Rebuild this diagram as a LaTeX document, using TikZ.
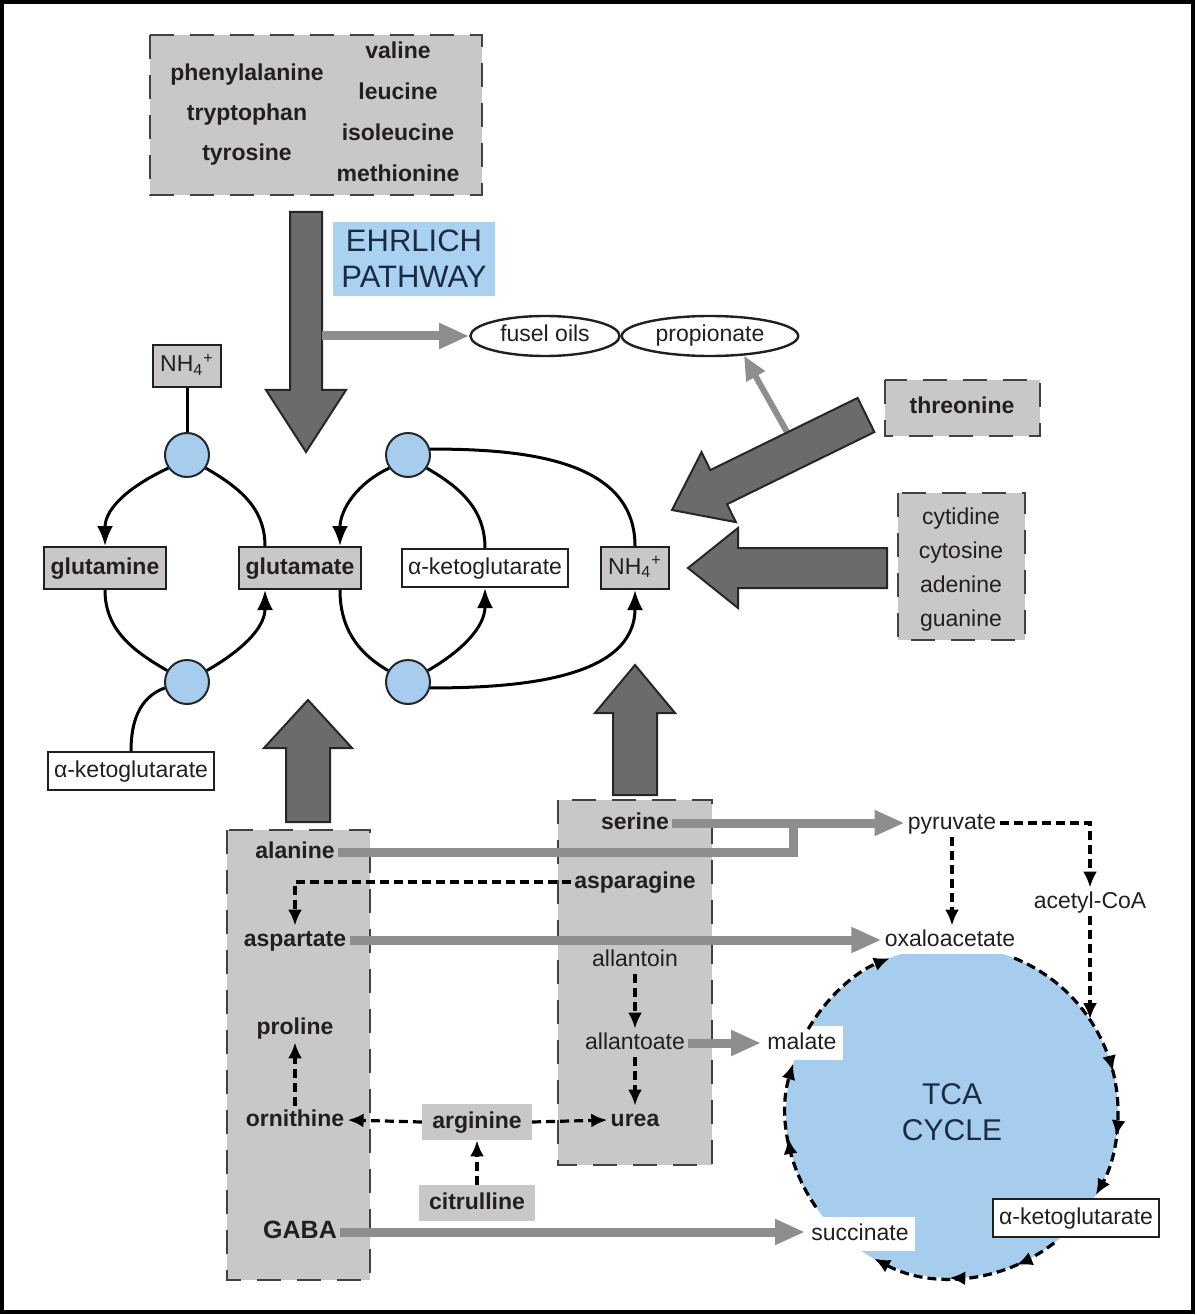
\documentclass[tikz,border=0pt]{standalone}
\usepackage{fontspec}
\setmainfont{Liberation Sans}
\usetikzlibrary{arrows.meta,calc,shapes.geometric,decorations.markings}

\definecolor{boxgray}{HTML}{C9C7C7}
\definecolor{fatgray}{HTML}{6B6B6B}
\definecolor{arrgray}{HTML}{8E8E8E}
\definecolor{paleblue}{HTML}{A6CCEE}
\definecolor{ehrblue}{HTML}{A9D2F2}
\definecolor{txt}{HTML}{231F20}
\definecolor{navy}{HTML}{1C2B45}

\newcommand{\lblfont}{\fontsize{11.5}{13}\selectfont}
% fat block arrow: from, to, shaft half width, head half width, head length
\newcommand{\fatarrow}[5]{%
  \coordinate (fa-h) at ($(#2)!#5!(#1)$);
  \filldraw[fatarrow] ($(#1)!#3!90:(#2)$) -- ($(fa-h)!#3!90:(#2)$) -- ($(fa-h)!#4!90:(#2)$) -- (#2)
    -- ($(fa-h)!#4!-90:(#2)$) -- ($(fa-h)!#3!-90:(#2)$) -- ($(#1)!#3!-90:(#2)$) -- cycle;
}

\tikzset{
  lbl/.style={font=\lblfont, text=txt, inner sep=1.5pt, text height=8.5pt, text depth=2.5pt},
  blbl/.style={lbl, font=\lblfont\bfseries},
  solidbox/.style={blbl, draw=txt, fill=boxgray, line width=1pt, minimum height=21pt, inner xsep=3.5pt},
  whitebox/.style={lbl, draw=txt, fill=white, line width=1pt, minimum height=19pt, inner xsep=3pt},
  graybox/.style={blbl, fill=boxgray, minimum height=18pt, inner xsep=5pt},
  dashbox/.style={draw=txt!85, fill=boxgray, line width=1.3pt, dash pattern=on 12pt off 8pt},
  oil/.style={lbl, ellipse, draw=txt, line width=1.2pt, minimum height=20pt, inner xsep=4pt},
  enzyme/.style={circle, draw=black!85, fill=paleblue, line width=1pt, minimum size=22pt, inner sep=0pt},
  loopline/.style={line width=1.5pt, black},
  looptip/.style={-{Latex[length=10pt,width=8pt]}},
  fatarrow/.style={fill=fatgray, draw=black!85, line width=1pt},
  grayarrow/.style={draw=arrgray, line width=4.5pt, -{Triangle[length=15pt,width=12pt]}},
  dasharrow/.style={draw=black, line width=1.6pt, dash pattern=on 4.5pt off 2.5pt, -{Latex[length=8pt,width=7pt]}},
  tcaline/.style={draw=black, line width=1.6pt, dash pattern=on 4.5pt off 2.5pt},
  tcamark/.style={postaction={decorate, decoration={markings,
      mark=at position #1 with {\arrow{Latex[length=8pt,width=7pt]}}}}}
}

\begin{document}
\begin{tikzpicture}[x=0.5pt,y=0.5pt]
    \useasboundingbox (0,0) rectangle (1196,-1315);
    \draw[line width=2pt] (2,-2) rectangle (1193,-1312);

    % amino acids of the Ehrlich pathway
    \draw[dashbox] (150,-35) rectangle (482,-195);
    \node[blbl] (phe) at (247,-75) {phenylalanine};
    \node[blbl] (trp) at (247,-115) {tryptophan};
    \node[blbl] (tyr) at (247,-155) {tyrosine};
    \node[blbl] (val) at (398,-53) {valine};
    \node[blbl] (leu) at (398,-94) {leucine};
    \node[blbl] (ile) at (398,-135) {isoleucine};
    \node[blbl] (met) at (398,-176) {methionine};

    \node[fill=ehrblue, text=navy, font=\fontsize{15.5}{18}\selectfont, align=center,
          minimum width=81pt, minimum height=37pt, inner sep=1pt] (ehrlich) at (414,-259) {EHRLICH\\PATHWAY};

    \node[oil] (fusel) at (545,-336) {fusel oils};
    \node[oil] (prop) at (710,-336) {propionate};

    \coordinate (ehr-top) at (306,-212);
    \coordinate (ehr-tip) at (306,-452);
    \fatarrow{ehr-top}{ehr-tip}{8pt}{20pt}{31pt}
    \coordinate (ehr-side) at (322,-336);
    \draw[grayarrow] (ehr-side) -- (fusel.west);

    % threonine and nucleobases
    \draw[dashbox] (885,-380) rectangle (1040,-436);
    \node[blbl] (thr) at (962,-408) {threonine};
    \draw[dashbox] (898,-493) rectangle (1025,-640);
    \node[lbl] (cyd) at (961,-518) {cytidine};
    \node[lbl] (cyt) at (961,-552) {cytosine};
    \node[lbl] (ade) at (961,-586) {adenine};
    \node[lbl] (gua) at (961,-620) {guanine};

    \coordinate (thr-side) at (787,-432);
    \draw[grayarrow, line width=3pt, -{Triangle[length=12pt,width=10pt]}] (thr-side) -- (prop.-30);
    \coordinate (thr-start) at (866,-415);
    \coordinate (thr-tip) at (672,-510);
    \fatarrow{thr-start}{thr-tip}{9.5pt}{19.5pt}{26pt}
    \coordinate (nuc-start) at (887,-568);
    \coordinate (nuc-tip) at (688,-568);
    \fatarrow{nuc-start}{nuc-tip}{10pt}{20pt}{25pt}

    % glutamate / glutamine cycle
    \node[solidbox, font=\lblfont] (nh4l) at (187,-366) {NH\textsubscript{4}\textsuperscript{+}};
    \node[solidbox] (glutamine) at (105,-568) {glutamine};
    \node[solidbox] (glutamate) at (300,-568) {glutamate};
    \node[whitebox] (akg1) at (485,-568) {α-ketoglutarate};
    \node[solidbox, font=\lblfont] (nh4r) at (635,-568) {NH\textsubscript{4}\textsuperscript{+}};
    \node[whitebox] (akg2) at (131,-771) {α-ketoglutarate};

    \node[enzyme] (lt) at (187,-455) {};
    \node[enzyme] (lb) at (187,-682) {};
    \node[enzyme] (mt) at (408,-455) {};
    \node[enzyme] (mb) at (408,-682) {};

    \draw[loopline] (nh4l.south) -- (lt.north);
    \draw[loopline, looptip] (lt.215) to[out=205,in=90] (glutamine.north);
    \draw[loopline] (lt.325) to[out=-30,in=90] ($(glutamate.north)+(-35,0)$);
    \draw[loopline] (glutamine.south) to[out=-90,in=150] (lb.150);
    \draw[loopline, looptip] (lb.30) to[out=30,in=-90] ($(glutamate.south)+(-35,0)$);
    \draw[loopline] (lb.195) to[out=200,in=90] (akg2.north);

    \draw[loopline, looptip] (mt.215) to[out=205,in=90] ($(glutamate.north)+(40,0)$);
    \draw[loopline] (mt.325) to[out=-30,in=90] (akg1.north);
    \draw[loopline] ($(glutamate.south)+(40,0)$) to[out=-90,in=150] (mb.150);
    \draw[loopline, looptip] (mb.30) to[out=30,in=-90] (akg1.south);
    \draw[loopline] (mt.15) to[out=0,in=90] (nh4r.north);
    \draw[loopline, looptip] (mb.-15) to[out=0,in=-90] (nh4r.south);

    % bottom groups
    \draw[dashbox] (227,-830) rectangle (370,-1280);
    \draw[dashbox] (558,-800) rectangle (712,-1165);

    \coordinate (ala-up) at (308,-822);
    \coordinate (ala-tip) at (308,-700);
    \fatarrow{ala-up}{ala-tip}{11pt}{22pt}{24pt}
    \coordinate (ser-up) at (635,-795);
    \coordinate (ser-tip) at (635,-665);
    \fatarrow{ser-up}{ser-tip}{11pt}{20pt}{24pt}

    \node[blbl] (alanine) at (295,-852) {alanine};
    \node[blbl] (aspartate) at (295,-940) {aspartate};
    \node[blbl] (proline) at (295,-1028) {proline};
    \node[blbl] (ornithine) at (295,-1120) {ornithine};
    \node[blbl, font=\fontsize{12.5}{14}\selectfont\bfseries] (gaba) at (300,-1232) {GABA};

    \node[blbl] (serine) at (635,-823) {serine};
    \node[blbl] (asparagine) at (635,-882) {asparagine};
    \node[lbl] (allantoin) at (635,-960) {allantoin};
    \node[lbl] (allantoate) at (635,-1043) {allantoate};
    \node[blbl] (urea) at (635,-1120) {urea};

    \node[graybox] (arginine) at (477,-1122) {arginine};
    \node[graybox] (citrulline) at (477,-1203) {citrulline};

    % TCA cycle
    \node[circle, fill=paleblue, minimum size=166pt, inner sep=0pt, outer sep=0pt,
          text=navy, font=\fontsize{15}{18}\selectfont, align=center] (tca) at (952,-1112) {TCA\\CYCLE};

    \node[lbl, fill=white] (pyruvate) at (952,-823) {pyruvate};
    \node[lbl] (acetyl) at (1090,-902) {acetyl-CoA};
    \node[lbl, fill=white] (oxalo) at (950,-940) {oxaloacetate};
    \node[lbl, fill=white, inner sep=3pt] (malate) at (802,-1043) {malate};
    \node[lbl, fill=white, inner sep=3pt] (succinate) at (860,-1234) {succinate};
    \node[whitebox] (akg3) at (1076,-1218) {α-ketoglutarate};

    \draw[tcaline, tcamark=0.55, tcamark=0.78, -{Latex[length=8pt,width=7pt]}]
        (tca.68) arc[start angle=68, end angle=-30, radius=83pt];
    \draw[tcaline, tcamark=0.23, tcamark=0.59, -{Latex[length=8pt,width=7pt]}]
        (tca.-52) arc[start angle=-52, end angle=-118, radius=83pt];
    \draw[tcaline, tcamark=0.5, -{Latex[length=8pt,width=7pt]}]
        (tca.215) arc[start angle=215, end angle=163, radius=83pt];
    \draw[tcaline, -{Latex[length=8pt,width=7pt]}]
        (tca.150) arc[start angle=150, end angle=112, radius=83pt];

    % grey conversions
    \draw[grayarrow] (serine.east) -- (pyruvate.west);
    \draw[draw=arrgray, line width=4.5pt] (alanine.east) -| ($(serine.east)!0.52!(pyruvate.west)$);
    \draw[grayarrow] (aspartate.east) -- (oxalo.west);
    \draw[grayarrow] (allantoate.east) -- (malate.west);
    \draw[grayarrow] (gaba.east) -- (gaba.east -| succinate.west);

    % dashed conversions
    \draw[dasharrow] (asparagine.west) -| (aspartate.north);
    \draw[dasharrow] (allantoin.south) -- (allantoate.north);
    \draw[dasharrow] (allantoate.south) -- (urea.north);
    \draw[dasharrow] (ornithine.north) -- (proline.south);
    \draw[dasharrow] (arginine.west) -- (ornithine.east);
    \draw[dasharrow] (arginine.east) -- (urea.west);
    \draw[dasharrow] (citrulline.north) -- (arginine.south);
    \draw[dasharrow] (pyruvate.south) -- (pyruvate.south |- oxalo.north);
    \draw[dasharrow] (pyruvate.east) -| (acetyl.north);
    \draw[dasharrow] (acetyl.south) -- (acetyl.south |- tca.34);
\end{tikzpicture}
\end{document}
